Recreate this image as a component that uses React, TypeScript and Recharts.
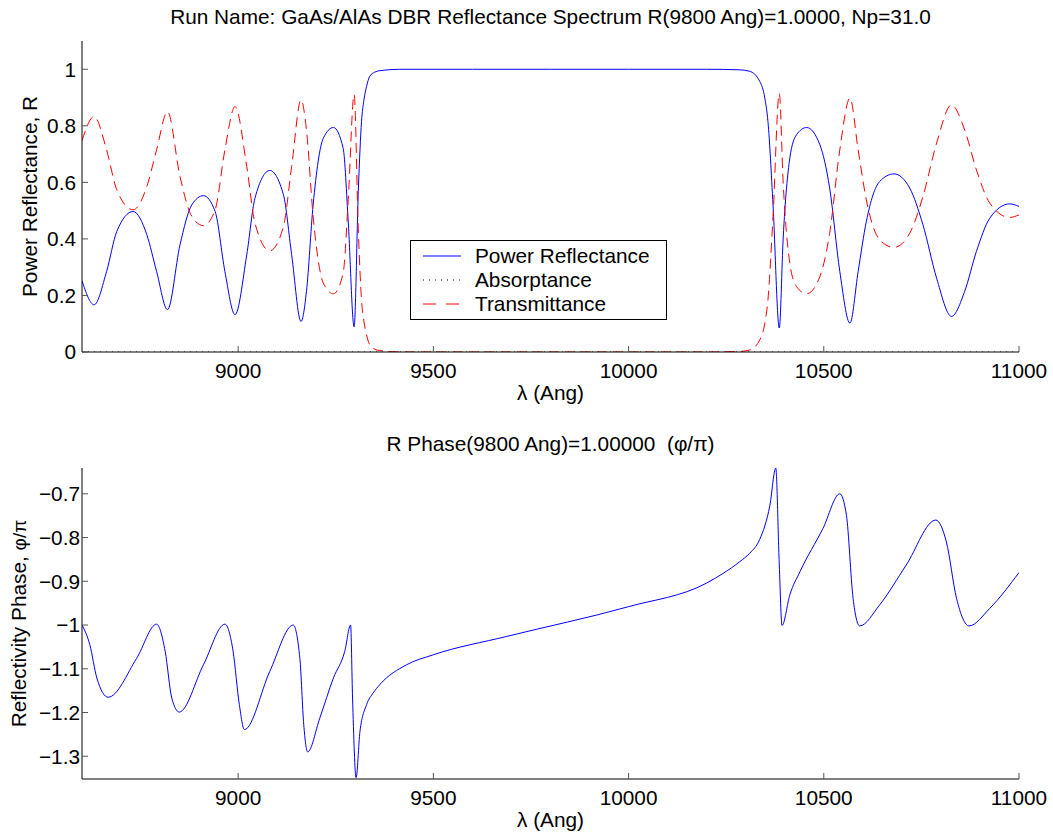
import React from 'react';
import { LineChart, Line, XAxis, YAxis, Legend } from 'recharts';

const FONT = '"Liberation Sans", Arial, Helvetica, sans-serif';
const FS = 20.8;

// ---------- top panel: spectrum ----------
const lambdaSpec = [
  8600, 8631, 8663, 8689, 8731, 8766, 8791, 8819, 8851, 8881, 8911, 8941, 8966, 8992,
  9022, 9043, 9081, 9116, 9137, 9161, 9175, 9192, 9218, 9244, 9269, 9282, 9297, 9308,
  9316, 9322, 9329, 9337, 9350, 9363, 9414, 9600, 9800, 10000, 10200, 10285, 10310, 10336, 10349,
  10357, 10370, 10386, 10396, 10413, 10430, 10456, 10490, 10515, 10541, 10567, 10588,
  10609, 10643, 10680, 10720, 10754, 10789, 10827, 10861, 10891, 10925, 10976, 11000,
];
const reflectance = [
  0.252, 0.167, 0.285, 0.426, 0.497, 0.415, 0.285, 0.15, 0.379, 0.52, 0.553, 0.497, 0.285, 0.132,
  0.344, 0.544, 0.642, 0.556, 0.344, 0.108, 0.215, 0.52, 0.756, 0.794, 0.72, 0.46, 0.089, 0.58,
  0.816, 0.89, 0.94, 0.975, 0.99, 0.995, 1.0, 1.0, 1.0, 1.0, 1.0, 0.998, 0.993, 0.957, 0.898,
  0.815, 0.52, 0.085, 0.403, 0.686, 0.768, 0.794, 0.733, 0.58, 0.285, 0.102, 0.285,
  0.462, 0.603, 0.63, 0.58, 0.45, 0.261, 0.126, 0.215, 0.356, 0.473, 0.524, 0.515,
];
const transmittance = [
  0.748, 0.833, 0.715, 0.574, 0.503, 0.585, 0.715, 0.85, 0.621, 0.48, 0.447, 0.503, 0.715, 0.868,
  0.656, 0.456, 0.358, 0.444, 0.656, 0.892, 0.785, 0.48, 0.244, 0.206, 0.28, 0.54, 0.911, 0.42,
  0.184, 0.11, 0.06, 0.025, 0.01, 0.005, 0.0, 0.0, 0.0, 0.0, 0.0, 0.002, 0.007, 0.043, 0.102,
  0.185, 0.48, 0.915, 0.597, 0.314, 0.232, 0.206, 0.267, 0.42, 0.715, 0.898, 0.715,
  0.538, 0.397, 0.37, 0.42, 0.55, 0.739, 0.874, 0.785, 0.644, 0.527, 0.476, 0.485,
];
const lambdaAbs = [8600, 11000];
const absorptance = [0, 0];

// ---------- bottom panel: phase ----------
const lambdaPhase = [
  8600, 8620, 8638, 8667, 8740, 8791, 8813, 8830, 8849, 8911, 8966, 8987, 9003, 9016,
  9081, 9141, 9158, 9168, 9178, 9209, 9244, 9273, 9288, 9293, 9302, 9312, 9329, 9346, 9363,
  9431, 9500, 9688, 10000, 10200, 10242, 10285, 10310, 10336, 10362, 10377, 10386, 10393, 10413, 10439,
  10498, 10541, 10558, 10575, 10592, 10643, 10711, 10787, 10814, 10840, 10872, 10925, 11000,
];
const phase = [
  -1.0, -1.045, -1.121, -1.165, -1.076, -0.998, -1.06, -1.167, -1.199, -1.091, -0.998, -1.06, -1.182, -1.239,
  -1.106, -1.0, -1.076, -1.228, -1.29, -1.213, -1.121, -1.06, -1.0, -1.167, -1.349, -1.243, -1.182, -1.155, -1.136,
  -1.091, -1.068, -1.026, -0.958, -0.904, -0.882, -0.855, -0.836, -0.804, -0.726, -0.641, -0.863, -1.001, -0.931, -0.878,
  -0.779, -0.7, -0.749, -0.939, -1.002, -0.954, -0.863, -0.76, -0.81, -0.939, -1.002, -0.962, -0.88,
];

const xTicks = [9000, 9500, 10000, 10500, 11000];
const specTicks = [0, 0.2, 0.4, 0.6, 0.8, 1];
const phaseTicks = [-1.3, -1.2, -1.1, -1, -0.9, -0.8, -0.7];

const seriesNames = ['Power Reflectance', 'Absorptance', 'Transmittance'];

const spectrumRows = lambdaSpec.map((l, i) => ({ lambda: l, R: reflectance[i], T: transmittance[i] }));
const absRows = lambdaAbs.map((l, i) => ({ lambda: l, A: absorptance[i] }));
const phaseRows = lambdaPhase.map((l, i) => ({ lambda: l, P: phase[i] }));

const fmt = (v: number) => {
  const s = Number(Math.abs(v).toFixed(1)).toString();
  return v < 0 ? '\u2212' + s : s;
};

const tickStyle = { fill: '#000', fontSize: FS, fontFamily: FONT };
const axisLine = { stroke: '#000', strokeWidth: 1 };
const tickLine = { stroke: '#555', strokeWidth: 1 };

const legendDash: Record<string, string | undefined> = {
  'Power Reflectance': undefined,
  Absorptance: '1 5',
  Transmittance: '13 10',
};

const LegendBox = (props: any) => {
  const payload = ([...(props.payload || [])] as any[]).sort(
    (a, b) => seriesNames.indexOf(a.value) - seriesNames.indexOf(b.value)
  );
  return (
    <svg width={257} height={80} style={{ display: 'block' }}>
      <rect x={0.5} y={0.5} width={256} height={79} fill="#fff" stroke="#000" strokeWidth={1} />
      {payload.map((p, i) => {
        const y = 16 + 24 * i;
        return (
          <g key={i}>
            <line x1={13} x2={51} y1={y} y2={y} stroke={p.color} strokeWidth={1} strokeDasharray={legendDash[p.value]} />
            <text x={65} y={y + 7} fontSize={FS} fontFamily={FONT} fill="#000">{p.value}</text>
          </g>
        );
      })}
    </svg>
  );
};

export default function App() {
  return (
    <div style={{ position: 'absolute', left: 0, top: 0, width: 1053, height: 838, background: '#fff', overflow: 'hidden' }}>
      <div style={{ position: 'absolute', left: 0, top: 0 }}>
        <LineChart width={1053} height={420} data={spectrumRows} margin={{ top: 41, right: 34, bottom: 8, left: 0 }}>
          <XAxis dataKey="lambda" type="number" domain={[8600, 11000]} ticks={xTicks} interval={0}
            allowDataOverflow tickSize={-6} tickMargin={17} height={60} axisLine={axisLine} tickLine={tickLine} tick={tickStyle} />
          <XAxis xAxisId="top" orientation="top" dataKey="lambda" type="number" domain={[8600, 11000]} ticks={xTicks}
            interval={0} allowDataOverflow tickSize={-6} height={0} axisLine={axisLine} tickLine={tickLine} tick={false} />
          <YAxis type="number" domain={[0, 1.1]} ticks={specTicks} interval={0} allowDataOverflow width={82}
            tickSize={-6} tickMargin={12} tickFormatter={fmt} axisLine={axisLine} tickLine={tickLine} tick={tickStyle} />
          <YAxis yAxisId="right" orientation="right" type="number" domain={[0, 1.1]} ticks={specTicks} interval={0}
            allowDataOverflow width={0} tickSize={-6} axisLine={axisLine} tickLine={tickLine} tick={false} />
          <Line name={seriesNames[0]} dataKey="R" type="monotone" stroke="#0000ff" strokeWidth={1} dot={false} isAnimationActive={false} />
          <Line name={seriesNames[1]} data={absRows} dataKey="A" type="linear" stroke="#000000" strokeWidth={1} strokeDasharray="1 5" dot={false} isAnimationActive={false} />
          <Line name={seriesNames[2]} dataKey="T" type="monotone" stroke="#ff0000" strokeWidth={1} strokeDasharray="10 6" dot={false} isAnimationActive={false} />
          <Legend layout="vertical" align="center" verticalAlign="middle" content={LegendBox}
            wrapperStyle={{ left: 410, top: 240, width: 257, height: 80 }} />
        </LineChart>
      </div>
      <div style={{ position: 'absolute', left: 0, top: 420 }}>
        <LineChart width={1053} height={418} data={phaseRows} margin={{ top: 48, right: 34, bottom: 9, left: 0 }}>
          <XAxis dataKey="lambda" type="number" domain={[8600, 11000]} ticks={xTicks} interval={0}
            allowDataOverflow tickSize={-6} tickMargin={17} height={50} axisLine={axisLine} tickLine={tickLine} tick={tickStyle} />
          <XAxis xAxisId="top" orientation="top" dataKey="lambda" type="number" domain={[8600, 11000]} ticks={xTicks}
            interval={0} allowDataOverflow tickSize={-6} height={0} axisLine={axisLine} tickLine={tickLine} tick={false} />
          <YAxis type="number" domain={[-1.352, -0.641]} ticks={phaseTicks} interval={0} allowDataOverflow width={82}
            tickSize={-6} tickMargin={8} tickFormatter={fmt} axisLine={axisLine} tickLine={tickLine} tick={tickStyle} />
          <YAxis yAxisId="right" orientation="right" type="number" domain={[-1.352, -0.641]} ticks={phaseTicks} interval={0}
            allowDataOverflow width={0} tickSize={-6} axisLine={axisLine} tickLine={tickLine} tick={false} />
          <Line name="Reflectivity Phase" dataKey="P" type="monotone" stroke="#0000ff" strokeWidth={1} dot={false} isAnimationActive={false} />
        </LineChart>
      </div>
      <svg width={1053} height={838} style={{ position: 'absolute', left: 0, top: 0, pointerEvents: 'none' }}>
        <g fontFamily={FONT} fontSize={FS} fill="#000">
          <text x={550.5} y={24} textAnchor="middle">Run Name: GaAs/AlAs DBR Reflectance Spectrum R(9800 Ang)=1.0000, Np=31.0</text>
          <text x={550.5} y={400} textAnchor="middle">λ (Ang)</text>
          <text x={36.5} y={196.5} textAnchor="middle" transform="rotate(-90 36.5 196.5)">Power Reflectance, R</text>
          <text x={550.5} y={450.5} textAnchor="middle" style={{ whiteSpace: 'pre' }}>R Phase(9800 Ang)=1.00000  (φ/π)</text>
          <text x={550.5} y={827} textAnchor="middle">λ (Ang)</text>
          <text x={25.5} y={623.5} textAnchor="middle" transform="rotate(-90 25.5 623.5)">
            Reflectivity Phase, <tspan fontSize={19}>φ/π</tspan>
          </text>
        </g>
      </svg>
    </div>
  );
}
